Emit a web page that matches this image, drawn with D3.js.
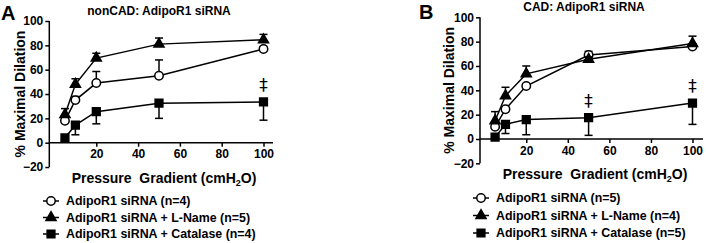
<!DOCTYPE html>
<html>
<head>
<meta charset="utf-8">
<script src="https://cdn.jsdelivr.net/npm/d3@7"></script>
<style>
  body { margin: 0; background: #fff; }
  svg { display: block; font-family: Arial, "Liberation Sans", sans-serif; font-weight: bold; }
  .axis path, .axis line { stroke: #000; stroke-width: 1.5; }
  .axis text { font-size: 12px; font-weight: bold; fill: #000; }
</style>
</head>
<body>
<div id="chart"></div>
<script>
// x values (pressure gradient, cmH2O)
const pressure = [5, 10, 20, 50, 100];
const yTicks = [-20, 0, 20, 40, 60, 80, 100];
const xTicks = [20, 40, 60, 80, 100];

// panel A: nonCAD
const aSiRNA = [18, 35, 49, 55, 77];
const aSiRNAErr = [3, 3, 9.5, 13, 2];
const aLName = [23, 48, 69.5, 81, 84.5];
const aLNameErr = [5, 4.5, 4, 5, 4.5];
const aCatalase = [4, 14.5, 25.5, 32.5, 33.5];
const aCatalaseErr = [2, 8, 10, 12.5, 15];
const aDaggers = [100];

// panel B: CAD
const bSiRNA = [10, 24.5, 43.5, 69, 76];
const bSiRNAErr = [2, 2, 2, 3, 2];
const bLName = [15, 35.5, 53.5, 65.5, 78.5];
const bLNameErr = [7.5, 7, 6.5, 2, 6];
const bCatalase = [1.5, 12, 16, 17.5, 29.5];
const bCatalaseErr = [1, 7.5, 12.5, 14.5, 17.5];
const bDaggers = [50, 100];

const legendA = ['AdipoR1 siRNA (n=4)', 'AdipoR1 siRNA + L-Name (n=5)', 'AdipoR1 siRNA + Catalase (n=4)'];
const legendB = ['AdipoR1 siRNA (n=5)', 'AdipoR1 siRNA + L-Name (n=4)', 'AdipoR1 siRNA + Catalase (n=5)'];

const svg = d3.select('#chart').append('svg')
    .attr('width', 706)
    .attr('height', 243);

class DilationPanel {
    constructor(opts) {
        Object.assign(this, opts);
        this.g = svg.append('g');
        this.draw();
    }

    draw() {
        const g = this.g;
        this.xScale = d3.scaleLinear().domain([0, 100]).range([this.x0, this.x100]);
        this.yScale = d3.scaleLinear().domain([0, 100]).range([this.y0, this.y100]);
        const xs = this.xScale, ys = this.yScale;

        // y axis
        g.append('g')
            .attr('class', 'axis')
            .attr('transform', `translate(${this.axisX},0)`)
            .call(d3.axisLeft(ys).tickValues(yTicks).tickSize(4).tickPadding(2).tickSizeOuter(0))
            .call(a => a.select('.domain').attr('d', `M0,${ys(-20)}V${ys(100)}`));

        // x axis sits on y = 0
        g.append('g')
            .attr('class', 'axis')
            .attr('transform', `translate(0,${ys(0)})`)
            .call(d3.axisBottom(xs).tickValues(xTicks).tickSize(4).tickPadding(3).tickSizeOuter(0))
            .call(a => a.select('.domain').attr('d', `M${this.axisX},0H${this.axisEnd}`));

        // panel letter, title, axis labels
        g.append('text').text(this.letter)
            .attr('x', this.letterX).attr('y', this.letterY)
            .style('font-size', '20px');

        g.append('text').text(this.title)
            .attr('x', this.titleX).attr('y', this.titleY)
            .attr('text-anchor', 'middle')
            .style('font-size', '12px');

        g.append('text').text('% Maximal Dilation')
            .attr('transform', `translate(${this.yLabelX},${ys(40)}) rotate(-90)`)
            .attr('text-anchor', 'middle')
            .style('font-size', '14px');

        const xl = g.append('text')
            .attr('x', this.xLabelX).attr('y', this.xLabelY)
            .attr('text-anchor', 'middle')
            .style('font-size', '14px')
            .attr('xml:space', 'preserve');
        xl.append('tspan').text('Pressure  Gradient (cmH');
        xl.append('tspan').text('2').style('font-size', '9px').attr('dy', 3);
        xl.append('tspan').text('O)').attr('dy', -3);

        const series = [
            { values: this.siRNA, err: this.siRNAErr, dir: 1, shape: 'circle' },
            { values: this.lName, err: this.lNameErr, dir: 1, shape: 'triangle' },
            { values: this.catalase, err: this.catalaseErr, dir: -1, shape: 'square' }
        ];

        const line = d3.line()
            .x(d => xs(d.x))
            .y(d => ys(d.y));

        series.forEach(s => {
            const pts = pressure.map((p, i) => ({ x: p, y: s.values[i], e: s.err[i] }));

            // error bars (one-sided)
            const eb = g.append('g');
            eb.selectAll('line.v').data(pts).enter().append('line')
                .attr('x1', d => xs(d.x)).attr('x2', d => xs(d.x))
                .attr('y1', d => ys(d.y)).attr('y2', d => ys(d.y + s.dir * d.e))
                .attr('stroke', '#000').attr('stroke-width', 1.5);
            eb.selectAll('line.c').data(pts).enter().append('line')
                .attr('x1', d => xs(d.x) - 4).attr('x2', d => xs(d.x) + 4)
                .attr('y1', d => ys(d.y + s.dir * d.e)).attr('y2', d => ys(d.y + s.dir * d.e))
                .attr('stroke', '#000').attr('stroke-width', 1.5);

            g.append('path').datum(pts)
                .attr('d', line)
                .attr('fill', 'none')
                .attr('stroke', '#000')
                .attr('stroke-width', 1.5);

            g.selectAll(null).data(pts).enter()
                .append('path')
                .attr('transform', d => `translate(${xs(d.x)},${ys(d.y)})`)
                .attr('d', markerPath(s.shape))
                .attr('fill', s.shape === 'circle' ? '#fff' : '#000')
                .attr('stroke', '#000')
                .attr('stroke-width', 1.5);
        });

        // significance daggers above catalase points
        g.selectAll(null).data(this.daggers).enter()
            .append('text')
            .text('‡')
            .attr('x', d => xs(d))
            .attr('y', d => ys(this.catalase[pressure.indexOf(d)] + 14))
            .attr('dy', '0.35em')
            .attr('text-anchor', 'middle')
            .attr('fill', '#000')
            .style('font-family', '"DejaVu Sans", sans-serif')
            .style('font-size', '17px')
            .style('font-weight', 'normal');

        // legend
        const shapes = ['circle', 'triangle', 'square'];
        const lg = g.append('g').attr('transform', `translate(${this.legendX},${this.legendY})`);
        this.legend.forEach((label, i) => {
            const row = lg.append('g').attr('transform', `translate(0,${i * this.legendStep})`);
            row.append('line')
                .attr('x1', -8).attr('x2', 8)
                .attr('stroke', '#000').attr('stroke-width', 1.5);
            row.append('path')
                .attr('d', markerPath(shapes[i]))
                .attr('fill', shapes[i] === 'circle' ? '#fff' : '#000')
                .attr('stroke', '#000').attr('stroke-width', 1.5);
            row.append('text').text(label)
                .attr('x', 15).attr('dy', '0.35em')
                .style('font-size', '12.4px');
        });
    }
}

function markerPath(shape) {
    if (shape === 'circle') return d3.symbol(d3.symbolCircle, 56)();
    if (shape === 'triangle') return d3.symbol(d3.symbolTriangle, 44)();
    return d3.symbol(d3.symbolSquare, 60)();
}

new DilationPanel({
    letter: 'A', letterX: 1, letterY: 20,
    title: 'nonCAD: AdipoR1 siRNA', titleX: 159, titleY: 15,
    x0: 54.5, x100: 263.5, y0: 142.7, y100: 21,
    axisX: 49.3, axisEnd: 273,
    yLabelX: 25, xLabelX: 164, xLabelY: 183,
    siRNA: aSiRNA, siRNAErr: aSiRNAErr,
    lName: aLName, lNameErr: aLNameErr,
    catalase: aCatalase, catalaseErr: aCatalaseErr,
    daggers: aDaggers,
    legend: legendA, legendX: 51, legendY: 201, legendStep: 16.5
});

new DilationPanel({
    letter: 'B', letterX: 419, letterY: 19,
    title: 'CAD: AdipoR1 siRNA', titleX: 584, titleY: 11,
    x0: 484.7, x100: 692.5, y0: 139, y100: 17.3,
    axisX: 480, axisEnd: 703,
    yLabelX: 454, xLabelX: 595, xLabelY: 179,
    siRNA: bSiRNA, siRNAErr: bSiRNAErr,
    lName: bLName, lNameErr: bLNameErr,
    catalase: bCatalase, catalaseErr: bCatalaseErr,
    daggers: bDaggers,
    legend: legendB, legendX: 481, legendY: 198, legendStep: 17.5
});
</script>
</body>
</html>
